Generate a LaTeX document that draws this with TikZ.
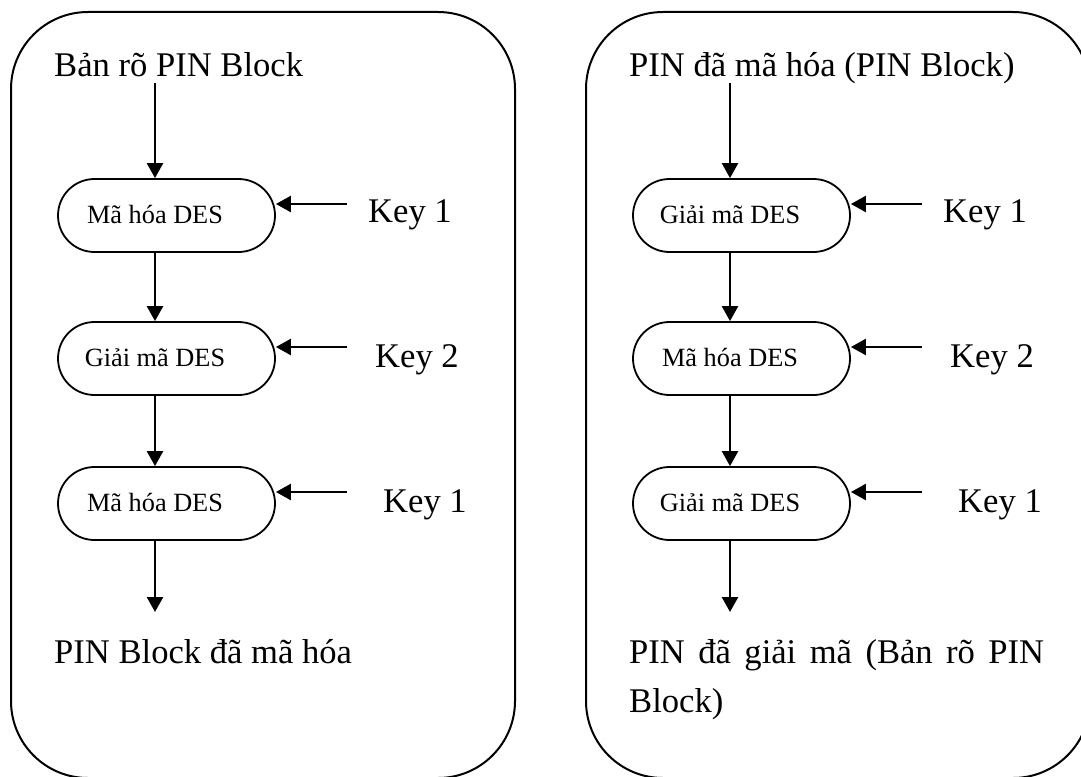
\documentclass[tikz,border=0pt]{standalone}
\usepackage{fontspec}
\setmainfont{Liberation Serif}
\usetikzlibrary{arrows.meta,shapes.misc,calc}

\begin{document}
\begin{tikzpicture}[x=1pt,y=-1pt,
  panel/.style={draw,line width=2pt,rounded corners=77pt},
  stage/.style={draw,rounded rectangle,line width=1.8pt,minimum width=217pt,minimum height=73pt,inner sep=0pt},
  stagetext/.style={anchor=base,inner sep=0pt,font=\fontsize{26.3}{30}\selectfont},
  bigtext/.style={anchor=base west,inner sep=0pt,font=\fontsize{34.6}{49}\selectfont},
  flow/.style={line width=2.5pt,-{Triangle[length=15pt,width=16pt]}},
]
\useasboundingbox (0,0) rectangle (1081,776);
\clip (0,0) rectangle (1081,776);

% outer frames
\draw[panel] (11,12) rectangle (515,778);
\draw[panel] (586,12) rectangle (1090,778);

% ---- encryption chain ----
\node[bigtext] (inL) at (54,76) {Bản rõ PIN Block};
\node[stage] (L1) at (166.5,215.5) {};
\node[stagetext] (L1t) at (155,223) {Mã hóa DES};
\node[stage] (L2) at (166.5,358.5) {};
\node[stagetext] (L2t) at (155,366) {Giải mã DES};
\node[stage] (L3) at (166.5,503.5) {};
\node[stagetext] (L3t) at (155,511) {Mã hóa DES};
\node[bigtext] (outL) at (54,663) {PIN Block đã mã hóa};
\node[bigtext] (kL1) at (368,222) {Key 1};
\node[bigtext] (kL2) at (375,367) {Key 2};
\node[bigtext] (kL3) at (383,512) {Key 1};
\coordinate (eL1) at (347,204);
\coordinate (eL2) at (347,347);
\coordinate (eL3) at (347,492);
\coordinate (endL) at (155,612);

\draw[flow] ([yshift=-7pt]inL.base -| L1t) -- (L1t |- L1.north);
\draw[flow] (L1t |- L1.south) -- (L2t |- L2.north);
\draw[flow] (L2t |- L2.south) -- (L3t |- L3.north);
\draw[flow] (L3t |- L3.south) -- (endL);
\draw[flow] (eL1) -- (eL1 -| L1.east);
\draw[flow] (eL2) -- (eL2 -| L2.east);
\draw[flow] (eL3) -- (eL3 -| L3.east);

% ---- decryption chain ----
\node[bigtext] (inR) at (629,76) {PIN đã mã hóa (PIN Block)};
\node[stage] (R1) at (741.5,215.5) {};
\node[stagetext] (R1t) at (730,223) {Giải mã DES};
\node[stage] (R2) at (741.5,358.5) {};
\node[stagetext] (R2t) at (730,366) {Mã hóa DES};
\node[stage] (R3) at (741.5,503.5) {};
\node[stagetext] (R3t) at (730,511) {Giải mã DES};
\node[bigtext,text width=415pt,align=justify] (outR) at (629,663)
  {\hyphenpenalty=10000 PIN đã giải mã (Bản rõ PIN\linebreak Block)};
\node[bigtext] (kR1) at (943,222) {Key 1};
\node[bigtext] (kR2) at (950,367) {Key 2};
\node[bigtext] (kR3) at (958,512) {Key 1};
\coordinate (eR1) at (922,204);
\coordinate (eR2) at (922,347);
\coordinate (eR3) at (922,492);
\coordinate (endR) at (730,612);

\draw[flow] ([yshift=-7pt]inR.base -| R1t) -- (R1t |- R1.north);
\draw[flow] (R1t |- R1.south) -- (R2t |- R2.north);
\draw[flow] (R2t |- R2.south) -- (R3t |- R3.north);
\draw[flow] (R3t |- R3.south) -- (endR);
\draw[flow] (eR1) -- (eR1 -| R1.east);
\draw[flow] (eR2) -- (eR2 -| R2.east);
\draw[flow] (eR3) -- (eR3 -| R3.east);
\end{tikzpicture}
\end{document}
